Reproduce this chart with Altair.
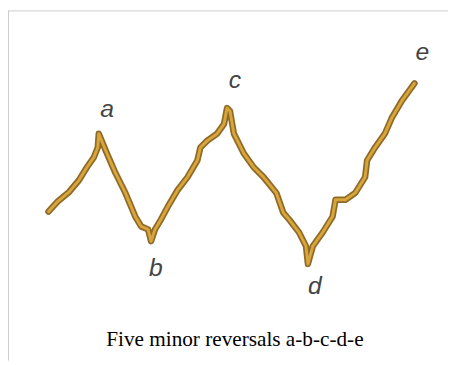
import altair as alt
import pandas as pd

# Price path (time in arbitrary units, price in arbitrary units)
day = [0, 9, 21, 31, 39, 46, 50, 51,
       58, 68, 78, 88, 94, 101, 104,
       108, 114, 121, 131, 141, 151, 154, 161, 171, 178, 181,
       184, 188, 198, 208, 218, 231, 238, 244, 254, 261, 263,
       268, 278, 288, 291, 301, 311, 321, 323, 331, 341, 348, 358, 371]
price = [88, 98, 108, 120, 133, 143, 153, 167,
         150, 127, 107, 83, 73, 70, 58,
         70, 80, 93, 110, 123, 140, 153, 160, 167, 177, 193,
         190, 167, 147, 133, 123, 107, 87, 80, 67, 53, 35,
         53, 67, 83, 100, 100, 107, 123, 140, 153, 167, 183, 200, 218]

label_text = ["a", "b", "c", "d", "e"]
label_day = [59.5, 109, 189, 270, 379]
label_price = [184, 23, 213, 5, 242]

caption = "Five minor reversals a-b-c-d-e"

W, H = 446, 355

path = pd.DataFrame({"day": day, "price": price, "order": list(range(len(day)))})
labels = pd.DataFrame({"day": label_day, "price": label_price, "label": label_text})

xs = alt.Scale(domain=[-41, 405])
ys = alt.Scale(domain=[-63, 292])

base = alt.Chart(path).encode(
    x=alt.X("day:Q", scale=xs, axis=None),
    y=alt.Y("price:Q", scale=ys, axis=None),
    order="order:Q",
)

outer = base.mark_line(color="#8f6a26", strokeWidth=6.5, strokeJoin="round", strokeCap="round")
inner = base.mark_line(color="#d7a53c", strokeWidth=3, strokeJoin="round", strokeCap="round")

text = alt.Chart(labels).mark_text(
    font="Liberation Sans", fontStyle="italic", fontSize=25, color="#444444",
    baseline="alphabetic", align="center",
).encode(
    x=alt.X("day:Q", scale=xs, axis=None),
    y=alt.Y("price:Q", scale=ys, axis=None),
    text="label:N",
)

cap_df = pd.DataFrame({"t": [caption]})
cap = alt.Chart(cap_df).mark_text(
    font="Liberation Serif", fontSize=21.5, color="#000000", baseline="alphabetic", align="center",
).encode(x=alt.value(230), y=alt.value(340), text="t:N")

frame_df = pd.DataFrame({"k": [0]})
top = alt.Chart(frame_df).mark_rule(color="#cccccc", strokeWidth=1).encode(
    x=alt.value(0), x2=alt.value(W), y=alt.value(0.5)
)
left = alt.Chart(frame_df).mark_rule(color="#cccccc", strokeWidth=1).encode(
    x=alt.value(0.5), y=alt.value(0), y2=alt.value(H)
)

chart = alt.layer(top, left, outer, inner, text, cap).properties(
    width=W, height=H, padding=0, autosize=alt.AutoSizeParams(type="none"),
    background="white",
).configure_view(stroke=None)

chart.save("out.html", embed_options={"renderer": "svg", "actions": False})
